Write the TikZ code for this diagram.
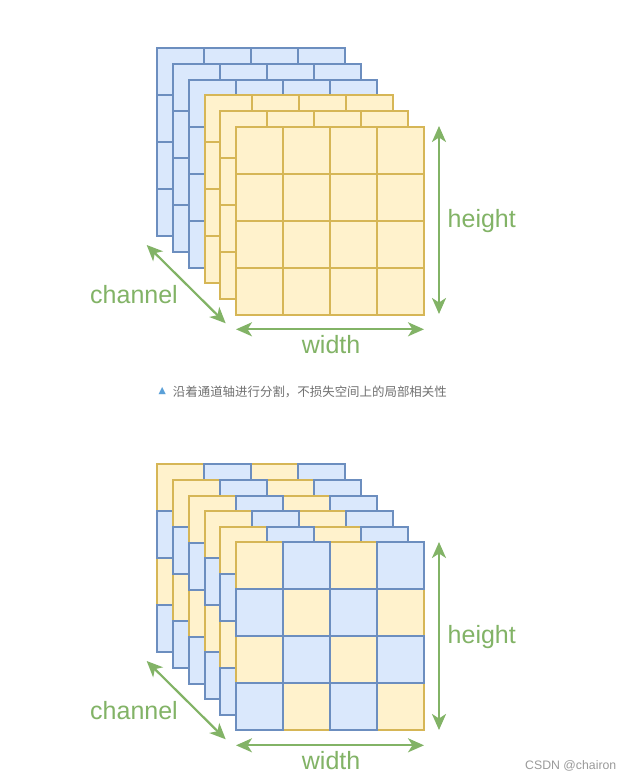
\documentclass[tikz,border=0pt]{standalone}
\usepackage{fontspec}
\setmainfont{Liberation Sans}
\newfontfamily\cjk{Noto Sans CJK SC}
\newfontfamily\dejavu{DejaVu Sans}
\usetikzlibrary{arrows.meta}
\definecolor{bfill}{HTML}{DAE8FC}
\definecolor{bline}{HTML}{6C8EBF}
\definecolor{yfill}{HTML}{FFF2CC}
\definecolor{yline}{HTML}{D6B656}
\definecolor{gline}{HTML}{82B366}
\definecolor{captxt}{HTML}{707070}
\definecolor{tri}{HTML}{5AA0D8}
\definecolor{wmark}{HTML}{9A9A9A}
\tikzset{
  bcell/.style={fill=bfill,draw=bline,line width=2pt},
  ycell/.style={fill=yfill,draw=yline,line width=2pt},
  dimarrow/.style={draw=gline,line width=2.2pt,
    {Stealth[length=16pt,width=14pt,inset=4.5pt]}-{Stealth[length=16pt,width=14pt,inset=4.5pt]}},
  dimlabel/.style={text=gline,font=\fontsize{25}{30}\selectfont,inner sep=0pt,anchor=base west},
}
\begin{document}
\begin{tikzpicture}[x=1pt,y=-1pt]
\useasboundingbox (0,0) rectangle (629,781);
\fill[white] (0,0) rectangle (629,781);
% ---------- top stack: split along channel axis ----------
\foreach \k/\st in {0/bcell,1/bcell,2/bcell,3/ycell,4/ycell,5/ycell}{
  \pgfmathsetmacro\lx{157.3+15.74*\k}
  \pgfmathsetmacro\ly{48.3+15.68*\k}
  \foreach \i in {0,...,3}{
    \foreach \j in {0,...,3}{
      \draw[\st] (\lx+47*\j,\ly+47*\i) rectangle ++(47,47);
    }
  }
}
% ---------- bottom stack: checkerboard ----------
\foreach \k in {0,...,5}{
  \pgfmathsetmacro\lx{157.3+15.74*\k}
  \pgfmathsetmacro\ly{464.3+15.6*\k}
  \foreach \i/\j in {0/0,0/2,1/1,1/3,2/0,2/2,3/1,3/3}{
    \draw[ycell] (\lx+47*\j,\ly+47*\i) rectangle ++(47,47);
  }
  \foreach \i/\j in {0/1,0/3,1/0,1/2,2/1,2/3,3/0,3/2}{
    \draw[bcell] (\lx+47*\j,\ly+47*\i) rectangle ++(47,47);
  }
}
% ---------- dimension arrows (top) ----------
\coordinate (h1a) at (439,126);
\coordinate (h1b) at (439,314);
\coordinate (w1a) at (236,329.3);
\coordinate (w1b) at (424,329.3);
\coordinate (c1a) at (146.7,245);
\coordinate (c1b) at (225.7,323.3);
\draw[dimarrow] (h1a) -- (h1b);
\draw[dimarrow] (w1a) -- (w1b);
\draw[dimarrow] (c1a) -- (c1b);
\node[dimlabel] (height1) at (447.5,227.3) {height};
\node[dimlabel] (width1) at (301.7,353.3) {width};
\node[dimlabel] (channel1) at (90,303.3) {channel};
% ---------- dimension arrows (bottom) ----------
\coordinate (h2a) at (439,542);
\coordinate (h2b) at (439,730);
\coordinate (w2a) at (236,745.3);
\coordinate (w2b) at (424,745.3);
\coordinate (c2a) at (146.7,661);
\coordinate (c2b) at (225.7,739.3);
\draw[dimarrow] (h2a) -- (h2b);
\draw[dimarrow] (w2a) -- (w2b);
\draw[dimarrow] (c2a) -- (c2b);
\node[dimlabel] (height2) at (447.5,643.3) {height};
\node[dimlabel] (width2) at (301.7,769.3) {width};
\node[dimlabel] (channel2) at (90,719.3) {channel};
% ---------- caption ----------
\node[anchor=west,inner sep=0pt,text=tri,font=\dejavu\fontsize{9.5}{11}\selectfont] (tri) at (158.5,391) {▲};
\node[anchor=west,inner sep=0pt,text=captxt,font=\cjk\fontsize{12.45}{14}\selectfont] (caption) at (172.7,391.5) {沿着通道轴进行分割，不损失空间上的局部相关性};
% ---------- watermark ----------
\node[anchor=west,inner sep=0pt,text=wmark,font=\fontsize{12.3}{14}\selectfont] (wm) at (525,766) {CSDN @chairon};
\end{tikzpicture}
\end{document}
